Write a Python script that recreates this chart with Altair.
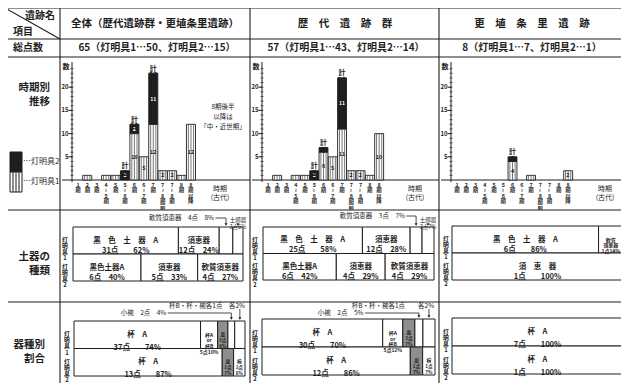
import altair as alt
import pandas as pd

FONT = "Noto Sans CJK JP"
INK = "#1e1e1e"
W, H, M = 613, 375, 8

# ---------------- data ----------------
periods = ["1期", "2期", "3期", "4~5期", "5期", "5~6期", "6期", "6~7期", "7期",
           "7~8期前半", "7~8期", "8期", "8期以降"]
period_vlabels = ["1\n期", "2\n期", "3\n期", "4\n≀\n5\n期", "5\n期", "5\n≀\n6\n期", "6\n期",
                  "6\n≀\n7\n期", "7\n期", "7\n≀\n8\n期\n前", "7\n≀\n8\n期", "8\n期", "8\n期\n以\n降"]

# counts per period: t1 = 灯明具1 (striped), t2 = 灯明具2 (black)
all_t1 = [0, 1, 0, 1, 1, 0, 10, 5, 12, 2, 2, 1, 12]
all_t2 = [0, 0, 0, 0, 0, 2, 2, 0, 11, 0, 0, 0, 0]
rek_t1 = [0, 1, 0, 1, 1, 0, 6, 5, 11, 2, 2, 1, 10]
rek_t2 = [0, 0, 0, 0, 0, 2, 1, 0, 11, 0, 0, 0, 0]
kos_t1 = [0, 0, 0, 0, 0, 0, 4, 0, 1, 0, 0, 0, 2]
kos_t2 = [0, 0, 0, 0, 0, 0, 1, 0, 0, 0, 0, 0, 0]

# 土器の種類 : (name, count, pct, format, shaded)
all_doki_1 = [("黒色土器A", 31, "62%", "wide", False), ("須恵器", 12, "24%", "plain", False),
              ("軟質須恵器", 4, "8%", "none", False), ("土師器", 3, "6%", "none", False)]
all_doki_2 = [("黒色土器A", 6, "40%", "plain", False), ("須恵器", 5, "33%", "plain", False),
              ("軟質須恵器", 4, "27%", "plain", False)]
rek_doki_1 = [("黒色土器A", 25, "58%", "wide", False), ("須恵器", 12, "28%", "plain", False),
              ("軟質須恵器", 3, "7%", "none", False), ("土師器", 3, "7%", "none", False)]
rek_doki_2 = [("黒色土器A", 6, "42%", "plain", False), ("須恵器", 4, "29%", "plain", False),
              ("軟質須恵器", 4, "29%", "plain", False)]
kos_doki_1 = [("黒色土器A", 6, "86%", "wide", False), ("軟質/須恵器", 1, "14%", "stack", False)]
kos_doki_2 = [("須恵器", 1, "100%", "wide", False)]

# 器種別割合
all_kishu_1 = [("杯A", 37, "74%", "wide", False), ("杯A/or/杯B", 5, "10%", "stack", False),
               ("皿", 3, "6%", "vert", True), ("小椀", 2, "4%", "none", False),
               ("杯B・杯・椀", 3, "6%", "none", False)]
all_kishu_2 = [("杯A", 13, "87%", "wide", False), ("皿", 1, "7%", "vert", True),
               ("椀", 1, "6%", "vert", False)]
rek_kishu_1 = [("杯A", 30, "70%", "wide", False), ("杯A/or/杯B", 5, "12%", "stack", False),
               ("皿", 3, "7%", "vert", True), ("小椀", 2, "5%", "none", False),
               ("杯B・杯・椀", 3, "7%", "none", False)]
rek_kishu_2 = [("杯A", 12, "86%", "wide", False), ("皿", 1, "7%", "vert", True),
               ("椀", 1, "7%", "vert", False)]
kos_kishu_1 = [("杯A", 7, "100%", "wide", False)]
kos_kishu_2 = [("杯A", 1, "100%", "wide", False)]

header_cols = ["全体（歴代遺跡群・更埴条里遺跡）", "歴　代　遺　跡　群", "更　埴　条　里　遺　跡"]
total_cols = ["65（灯明具1…50、灯明具2…15）", "57（灯明具1…43、灯明具2…14）", "8（灯明具1…7、灯明具2…1）"]


# ---------------- helpers ----------------
def PX():
    return alt.Scale(domain=[M, M + W], range=[0, W], nice=False, zero=False)


def PY():
    return alt.Scale(domain=[M, M + H], range=[0, H], nice=False, zero=False)


def sc(s, d):
    return s if s is not None else d()


def texts(df, size, xs=None, ys=None, xf="x:Q", yf="y:Q", align="center", baseline="middle",
          weight="normal", lh=None, color=INK, dy=0):
    kw = dict(font=FONT, fontSize=size, align=align, baseline=baseline, fontWeight=weight,
              color=color, lineBreak="\n", dy=dy)
    if lh is not None:
        kw["lineHeight"] = lh
    return alt.Chart(df).mark_text(**kw).encode(
        x=alt.X(xf, scale=sc(xs, PX), axis=None),
        y=alt.Y(yf, scale=sc(ys, PY), axis=None),
        text="t:N")


def rules(df, xs=None, ys=None, xf="x:Q", yf="y:Q", x2="x2:Q", y2="y2:Q", width=1.0, color=INK, **mk):
    e = dict(x=alt.X(xf, scale=sc(xs, PX), axis=None), y=alt.Y(yf, scale=sc(ys, PY), axis=None))
    if x2:
        e["x2"] = x2
    if y2:
        e["y2"] = y2
    return alt.Chart(df).mark_rule(color=color, strokeWidth=width, **mk).encode(**e)


layers = []

# ---------------- table frame ----------------
hl = [(5, 629, y) for y in (8, 39, 57, 210, 302, 388)]
vl = [(x, 8, 388) for x in (5, 60, 250, 439)]
frame = [dict(x=a, x2=b, y=y, y2=y) for a, b, y in hl] + [dict(x=x, x2=x, y=a, y2=b) for x, a, b in vl]
frame.append(dict(x=5, x2=60, y=8, y2=39))
layers.append(rules(pd.DataFrame(frame), width=1.1))

# header texts
layers.append(texts(pd.DataFrame([dict(x=40, y=16, t="遺跡名"), dict(x=23, y=32, t="項目"),
                                  dict(x=28, y=48, t="総点数")]), 10, weight="bold"))
layers.append(texts(pd.DataFrame([dict(x=x, y=24, t=t) for x, t in zip((155, 345, 532), header_cols)]),
                    10.5, weight="bold"))
layers.append(texts(pd.DataFrame([dict(x=x, y=48, t=t) for x, t in zip((157, 346, 532), total_cols)]),
                    10, weight="bold"))
# row labels
layers.append(texts(pd.DataFrame([dict(x=50, y=88, t="時期別"), dict(x=50, y=102, t="推移"),
                                  dict(x=50, y=257, t="土器の"), dict(x=50, y=271, t="種類"),
                                  dict(x=45, y=345, t="器種別"), dict(x=45, y=359, t="割合")]),
                    10.5, align="right", weight="bold"))
# legend
leg = pd.DataFrame([dict(x=10, x2=22, y=152, y2=172, f=INK), dict(x=10, x2=22, y=172, y2=192, f="white")])
layers.append(alt.Chart(leg).mark_rect(stroke=INK, strokeWidth=1).encode(
    x=alt.X("x:Q", scale=PX(), axis=None), x2="x2:Q",
    y=alt.Y("y:Q", scale=PY(), axis=None), y2="y2:Q", fill=alt.Fill("f:N", scale=None)))
layers.append(rules(pd.DataFrame([dict(x=x, x2=x, y=172, y2=192) for x in (13, 16, 19)]), width=1))
layers.append(texts(pd.DataFrame([dict(x=23, y=162, t="…灯明具2"), dict(x=23, y=182, t="…灯明具1")]),
                    8, align="left"))

# ---------------- period bar charts ----------------
BASE, TOP = 180, 64


def bar_panel(t1, t2, b0, b1, ax, cl, cr, tx):
    xs = alt.Scale(domain=periods, range=[b0 - M, b1 - M], paddingInner=0.04, paddingOuter=0)
    ys = alt.Scale(domain=[0, 25], range=[BASE - M, TOP - M], nice=False, zero=True)
    segs = []
    for p, a, b in zip(periods, t1, t2):
        if a:
            segs.append(dict(p=p, y0=0, y1=a, n=a, kind="s", fill="white"))
        if b:
            segs.append(dict(p=p, y0=a, y1=a + b, n=b, kind="b", fill=INK))
    sdf = pd.DataFrame(segs)
    sdf["ym"] = (sdf.y0 + sdf.y1) / 2
    sdf["t"] = sdf.n.astype(str)
    L = []
    L.append(rules(pd.DataFrame([dict(x=cl + 2, x2=cr, v=0)]), ys=ys, yf="v:Q", y2=None, width=1.1))
    L.append(alt.Chart(sdf).mark_rect(stroke=INK, strokeWidth=0.9).encode(
        x=alt.X("p:N", scale=xs, axis=None),
        y=alt.Y("y0:Q", scale=ys, axis=None), y2="y1:Q",
        fill=alt.Fill("fill:N", scale=None)))
    st = sdf[sdf.kind == "s"]
    for off in (-2.6, 0, 2.6):
        L.append(alt.Chart(st).mark_rule(color="#555", strokeWidth=0.8, xOffset=off).encode(
            x=alt.X("p:N", scale=xs, axis=None),
            y=alt.Y("y0:Q", scale=ys, axis=None), y2="y1:Q"))
    lab = sdf[sdf.n >= 2]
    L.append(texts(lab[lab.kind == "s"], 5.5, xs=xs, ys=ys, xf="p:N", yf="ym:Q", weight="bold"))
    L.append(texts(lab[lab.kind == "b"], 5.2, xs=xs, ys=ys, xf="p:N", yf="ym:Q", weight="bold",
                   color="white"))
    tot = pd.DataFrame([dict(p=p, y=a + b, t=f"計\n{a + b}") for p, a, b in zip(periods, t1, t2) if b])
    L.append(texts(tot, 7, xs=xs, ys=ys, xf="p:N", yf="y:Q", baseline="bottom", lh=7.6, dy=-1.5,
                   weight="bold"))
    # y axis
    L.append(rules(pd.DataFrame([dict(x=ax, x2=ax, y=TOP - 2, y2=BASE + 2)]), width=1))
    L.append(rules(pd.DataFrame([dict(x=ax - 1.5, x2=ax + 1.5, v=v) for v in range(1, 25)]),
                   ys=ys, yf="v:Q", y2=None, width=0.7))
    L.append(rules(pd.DataFrame([dict(x=ax - 3.5, x2=ax, v=v) for v in (5, 10, 15, 20)]),
                   ys=ys, yf="v:Q", y2=None, width=1))
    L.append(texts(pd.DataFrame([dict(x=ax - 3.5, v=v, t=str(v)) for v in (5, 10, 15, 20)]), 6,
                   ys=ys, yf="v:Q", align="right", weight="bold"))
    L.append(texts(pd.DataFrame([dict(x=ax - 6, y=TOP + 3, t="数")]), 7, weight="bold"))
    # category labels
    cdf = pd.DataFrame([dict(p=p, y=182.5, t=t) for p, t in zip(periods, period_vlabels)])
    L.append(texts(cdf, 5.4, xs=xs, xf="p:N", baseline="top", lh=5.6, weight="bold"))
    L.append(texts(pd.DataFrame([dict(x=tx, y=189, t="時期\n(古代)")]), 7, lh=9))
    return L


layers += bar_panel(all_t1, all_t2, 73.3, 195.5, 72, 60, 250, 220)
layers += bar_panel(rek_t1, rek_t2, 263.4, 383.6, 262, 250, 439, 415)
layers += bar_panel(kos_t1, kos_t2, 452.4, 572.6, 451, 439, 629, 605)
layers.append(texts(pd.DataFrame([dict(x=223, y=107, t="8期後半\n以降は\n「中・近世期」")]), 6.5, lh=10,
                    baseline="middle"))


# ---------------- 100% stacked bars ----------------
def spaced(s):
    return "　".join(list(s))


def build_text(name, n, pct, fmt):
    if fmt == "wide":
        return spaced(name) + "\n" + f"{n}点　　{pct}"
    if fmt == "plain":
        return name + "\n" + f"{n}点　{pct}"
    if fmt == "stack":
        return name.replace("/", "\n") + "\n" + f"{n}点{pct}"
    if fmt == "vert":
        return name + "\n" + f"{n}点\n{pct}"
    return ""


def hbar_panel(rows, x0, x1, ytop, ybot, labx, lh_big, annots):
    xs = alt.Scale(domain=[0, 1], range=[x0 - M, x1 - M], nice=False, zero=False)
    ys = alt.Scale(domain=["灯明具1", "灯明具2"], range=[ytop - M, ybot - M], paddingInner=0, paddingOuter=0)
    recs = []
    for row, segs in rows:
        tot = sum(s[1] for s in segs)
        c = 0
        for name, n, pct, fmt, shaded in segs:
            recs.append(dict(row=row, name=name, n=n, s=c / tot, e=(c + n) / tot, m=(c + n / 2) / tot,
                             t=build_text(name, n, pct, fmt), fmt=fmt,
                             fill="#8e8e8e" if shaded else "white"))
            c += n
    df = pd.DataFrame(recs)
    L = []
    L.append(alt.Chart(df).mark_rect(stroke=INK, strokeWidth=1).encode(
        x=alt.X("s:Q", scale=xs, axis=None), x2="e:Q",
        y=alt.Y("row:N", scale=ys, axis=None), fill=alt.Fill("fill:N", scale=None)))
    big = df[df.fmt.isin(["wide", "plain"])]
    L.append(texts(big, 7.5, xs=xs, ys=ys, xf="m:Q", yf="row:N", lh=lh_big, weight="bold"))
    small = df[df.fmt == "stack"]
    if len(small):
        L.append(texts(small, 5, xs=xs, ys=ys, xf="m:Q", yf="row:N", lh=5.6, weight="bold"))
    vert = df[df.fmt == "vert"]
    if len(vert):
        L.append(texts(vert, 4.6, xs=xs, ys=ys, xf="m:Q", yf="row:N", lh=6, weight="bold"))
    rl = pd.DataFrame([dict(x=labx, row=r, t="灯\n明\n具\n" + r[-1]) for r, _ in rows])
    L.append(texts(rl, 5.8, ys=ys, yf="row:N", lh=6.1, weight="bold", dy=-0.5))
    if not annots:
        return L
    # annotations with arrows
    an = []
    for name, text, style, off, ty in annots:
        m = float(df[(df.row == "灯明具1") & (df.name == name)].m.iloc[0])
        an.append(dict(m=m, t=text, style=style, xt=m - off if style == "left" else m + off,
                       ty=ty, ya=ytop - 2.5,
                       y0=ty + (3 if style == "right" else (1 if style == "above" else 0))))
    adf = pd.DataFrame(an)
    right = adf[adf["style"].isin(["left", "right"])]
    L.append(texts(right, 6.5, xs=xs, xf="xt:Q", yf="ty:Q", align="right"))
    above = adf[adf["style"] == "above"]
    if len(above):
        L.append(texts(above, 5.5, xs=xs, xf="m:Q", yf="ty:Q", baseline="bottom", lh=6.5))
    left = adf[adf["style"] == "left"].copy()
    left["x0"] = left.xt + 0.008
    L.append(rules(left, xs=xs, xf="x0:Q", x2="m:Q", yf="ty:Q", y2=None, width=0.8))
    L.append(rules(adf, xs=xs, xf="m:Q", x2=None, yf="y0:Q", y2="ya:Q", width=0.8))
    L.append(alt.Chart(adf).mark_point(shape="triangle-down", filled=True, size=9, color=INK, opacity=1).encode(
        x=alt.X("m:Q", scale=xs, axis=None), y=alt.Y("ya:Q", scale=PY(), axis=None)))
    return L


layers += hbar_panel([("灯明具1", all_doki_1), ("灯明具2", all_doki_2)], 73, 243, 227, 281, 65, 10,
                     [("軟質須恵器", "軟質須恵器　4点　8%", "left", 0.07, 218),
                      ("土師器", "土師器\n3点6%", "above", 0, 223)])
layers += hbar_panel([("灯明具1", rek_doki_1), ("灯明具2", rek_doki_2)], 263, 434, 227, 280, 255, 10,
                     [("軟質須恵器", "軟質須恵器　3点　7%", "left", 0.065, 216),
                      ("土師器", "土師器\n3点7%", "above", 0, 223)])
layers += hbar_panel([("灯明具1", kos_doki_1), ("灯明具2", kos_doki_2)], 452, 623, 226, 280, 446, 10, [])

layers += hbar_panel([("灯明具1", all_kishu_1), ("灯明具2", all_kishu_2)], 74, 245, 321, 376, 67, 13,
                     [("小椀", "小椀　2点　4%", "left", 0.38, 313),
                      ("杯B・杯・椀", "杯B・杯・椀各1点　各2%", "right", 0.03, 306)])
layers += hbar_panel([("灯明具1", rek_kishu_1), ("灯明具2", rek_kishu_2)], 262, 435, 319, 375, 255, 13,
                     [("小椀", "小椀　2点　5%", "left", 0.32, 313),
                      ("杯B・杯・椀", "杯B・杯・椀各1点　　各2%", "right", 0.03, 306)])
layers += hbar_panel([("灯明具1", kos_kishu_1), ("灯明具2", kos_kishu_2)], 452, 623, 318, 374, 446, 13, [])

chart = alt.layer(*layers).resolve_scale(x="independent", y="independent").properties(
    width=W, height=H, padding=0, autosize=alt.AutoSizeParams(type="none"), background="white"
).configure_view(stroke=None)

chart.save("out.html", embed_options={"renderer": "svg", "actions": False})
